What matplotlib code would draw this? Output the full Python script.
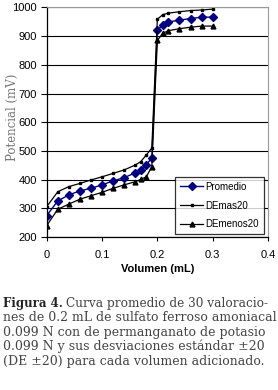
import matplotlib
matplotlib.use("Agg")
import matplotlib.pyplot as plt

vol = [0, 0.02, 0.04, 0.06, 0.08, 0.10, 0.12, 0.14, 0.16, 0.17, 0.18, 0.19,
       0.20, 0.21, 0.22, 0.24, 0.26, 0.28, 0.30]
promedio = [275, 326, 347, 361, 370, 382, 396, 407, 424, 434, 451, 477,
            922, 938, 949, 956, 961, 966, 966]
demas20 = [306, 358, 376, 387, 399, 410, 422, 434, 451, 463, 486, 510,
           959, 975, 980, 985, 989, 991, 994]
demenos20 = [240, 297, 315, 332, 344, 356, 370, 382, 393, 401, 410, 445,
             885, 910, 919, 926, 931, 935, 935]
labels = ["Promedio", "DEmas20", "DEmenos20"]
caption_lines = [
    ("Figura 4.", "Curva promedio de 30 valoracio-"),
    ("", "nes de 0.2 mL de sulfato ferroso amoniacal"),
    ("", "0.099 N con de permanganato de potasio"),
    ("", "0.099 N y sus desviaciones estándar ±20"),
    ("", "(DE ±20) para cada volumen adicionado."),
]

fig = plt.figure(figsize=(2.78, 3.90), dpi=100)
ax = fig.add_axes([0.168, 0.392, 0.796, 0.589])
sans = "Liberation Sans"

ax.plot(vol, promedio, color="#000080", marker="D", markersize=4.5, lw=1.0, label=labels[0])
ax.plot(vol, demas20, color="black", marker="s", markersize=2, lw=0.9, label=labels[1])
ax.plot(vol, demenos20, color="black", marker="^", markersize=3.5, lw=0.9, label=labels[2])

ax.set_xlim(0, 0.4)
ax.set_ylim(200, 1000)
ax.set_xticks([0, 0.1, 0.2, 0.3, 0.4])
ax.set_xticklabels(["0", "0.1", "0.2", "0.3", "0.4"], fontfamily=sans, fontsize=8)
ax.set_yticks(range(200, 1001, 100))
ax.set_yticklabels([str(v) for v in range(200, 1001, 100)], fontfamily=sans, fontsize=8)
ax.yaxis.grid(True, color="black", lw=0.8)
ax.set_axisbelow(True)
for s in ["top", "right"]:
    ax.spines[s].set_color("#999999")
    ax.spines[s].set_linewidth(0.8)
for s in ["left", "bottom"]:
    ax.spines[s].set_color("black")
    ax.spines[s].set_linewidth(0.9)
ax.tick_params(axis="x", direction="out", length=3, width=0.8, pad=6)
ax.tick_params(axis="y", direction="out", length=4, width=0.8, pad=3)
ax.set_xlabel("Volumen (mL)", fontfamily=sans, fontsize=8, fontweight="bold", labelpad=3)
ax.set_ylabel("Potencial (mV)", fontfamily="DejaVu Serif", fontsize=8.5, color="#777777")
ax.yaxis.set_label_coords(-0.125, 0.52)

leg = ax.legend(loc="lower right", bbox_to_anchor=(0.995, 0.0), prop={"family": sans, "size": 7},
                frameon=True, fancybox=False, edgecolor="black", borderpad=0.5,
                handlelength=2.3, labelspacing=0.9, handletextpad=0.3, borderaxespad=0.3)
leg.get_frame().set_linewidth(0.9)

y0 = 0.2136
dy = 0.0374
for i, (bold, rest) in enumerate(caption_lines):
    y = y0 - i * dy
    if bold:
        t = fig.text(0.01, y, bold, fontfamily="DejaVu Serif", fontsize=8.5, fontweight="bold", color="#222222", va="baseline")
        fig.canvas.draw()
        bb = t.get_window_extent()
        x2 = (bb.x1 + 3) / fig.bbox.width
        fig.text(x2, y, rest, fontfamily="DejaVu Serif", fontsize=8.7, color="#444444", va="baseline")
    else:
        fig.text(0.01, y, rest, fontfamily="DejaVu Serif", fontsize=9, color="#444444", va="baseline")

fig.savefig("out.png", dpi=100)
